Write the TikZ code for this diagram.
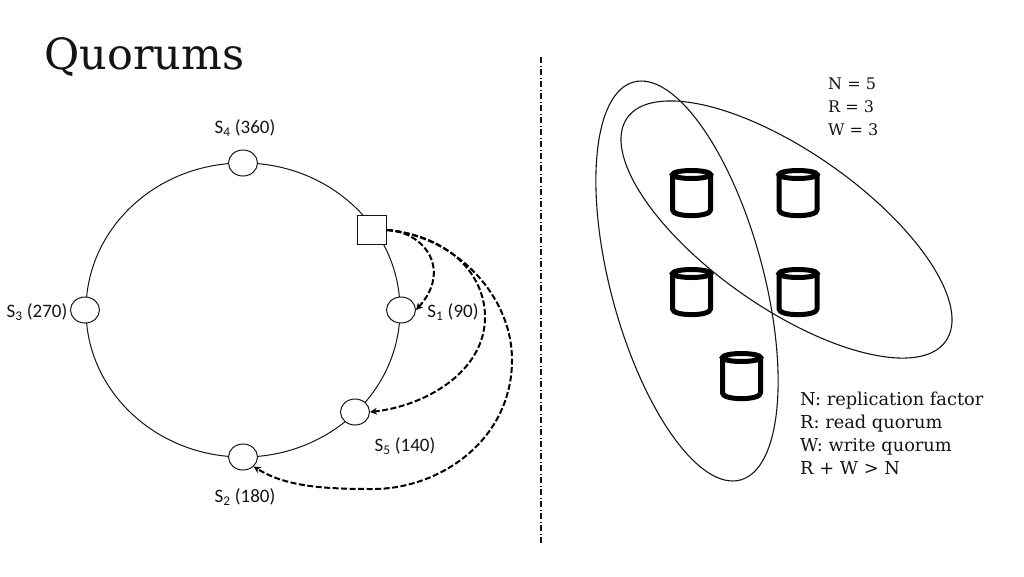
\documentclass[tikz,border=0pt]{standalone}
\usepackage{fontspec}
\setmainfont{DejaVu Serif}
\newfontfamily\labelfont{Carlito}
\usetikzlibrary{positioning,calc,arrows.meta,shapes.geometric}
\definecolor{inkBlack}{RGB}{20,20,20}

\begin{document}
\begin{tikzpicture}[
    x=1pt, y=-1pt,
    ringnode/.style={draw=inkBlack, fill=white, ellipse, minimum width=29pt, minimum height=26pt, inner sep=0pt, line width=1pt},
    srvlabel/.style={font=\labelfont\fontsize{19}{22}\selectfont, text=inkBlack, inner sep=0pt},
    arr/.style={-{Stealth[length=7pt,width=7pt]}, dash pattern=on 6pt off 2.5pt, line width=2pt, draw=black},
    quorum/.style={draw=inkBlack, ellipse, inner sep=0pt, line width=1.1pt},
    dbicon/.pic={
        \draw[line width=5pt, line join=round, draw=black]
            (-19,-18.5) -- (-19,17) .. controls (-19,24.5) and (19,24.5) .. (19,17) -- (19,-18.5);
        \draw[line width=5pt, draw=black] (0,-18.5) ellipse (19pt and 4pt);
    },
    notes/.style={font=\fontsize{17.8}{23}\selectfont, text=inkBlack, align=left, inner sep=0pt},
]
\useasboundingbox (0,0) rectangle (1024,576);

\node[anchor=base west, inner sep=0pt, font=\fontsize{43}{46}\selectfont, text=inkBlack] (title) at (44,69) {Quorums};

% ring
\node[draw=inkBlack, ellipse, minimum width=314pt, minimum height=294pt, inner sep=0pt, line width=1pt] (ring) at (243,310) {};
\node[ringnode] (s4) at (243,163) {};
\node[ringnode] (s3) at (85,310) {};
\node[ringnode] (s1) at (401,310) {};
\node[ringnode] (s5) at (355,412) {};
\node[ringnode] (s2) at (243,457) {};
\node[draw=inkBlack, fill=white, minimum size=29pt, inner sep=0pt, line width=1pt] (coord) at (372,230) {};

\node[srvlabel] (l4) at (245,128) {S\textsubscript{4} (360)};
\node[srvlabel] (l3) at (37,312) {S\textsubscript{3} (270)};
\node[srvlabel] (l1) at (453,312) {S\textsubscript{1} (90)};
\node[srvlabel] (l5) at (405,446) {S\textsubscript{5} (140)};
\node[srvlabel] (l2) at (245,497) {S\textsubscript{2} (180)};

\draw[arr] (coord.east) .. controls (425,232) and (452,270) .. (s1.east);
\draw[arr] (coord.east) .. controls (450,236) and (485,275) .. (485,317) .. controls (485,372) and (425,406) .. (s5.east);
\draw[arr] (coord.east) .. controls (455,236) and (512,295) .. (512,360) .. controls (512,440) and (440,489) .. (373,489) .. controls (320,489) and (285,486) .. (s2.south east);

% divider
\coordinate (divtop) at (541,57);
\coordinate (divbot) at (541,543);
\draw[dash pattern=on 6pt off 2.5pt on 1pt off 2.5pt, line width=1.2pt, draw=inkBlack] (divtop) -- (divbot);

% read and write sets
\node[quorum, minimum width=412pt, minimum height=153pt, rotate=-75] (readset) at (687,281) {};
\node[quorum, minimum width=389pt, minimum height=156pt, rotate=-35] (writeset) at (786.5,229.5) {};

\pic (db1) at (691.5,193) {dbicon};
\pic (db2) at (798,193) {dbicon};
\pic (db3) at (691.5,292) {dbicon};
\pic (db4) at (798,292) {dbicon};
\pic (db5) at (741.5,376) {dbicon};

\node[notes, anchor=north west, font=\fontsize{16}{23}\selectfont] (params) at (828,78) {N = 5\\R = 3\\W = 3};
\node[notes, anchor=north west] (legend) at (800,392) {N: replication factor\\R: read quorum\\W: write quorum\\R + W > N};
\end{tikzpicture}
\end{document}
